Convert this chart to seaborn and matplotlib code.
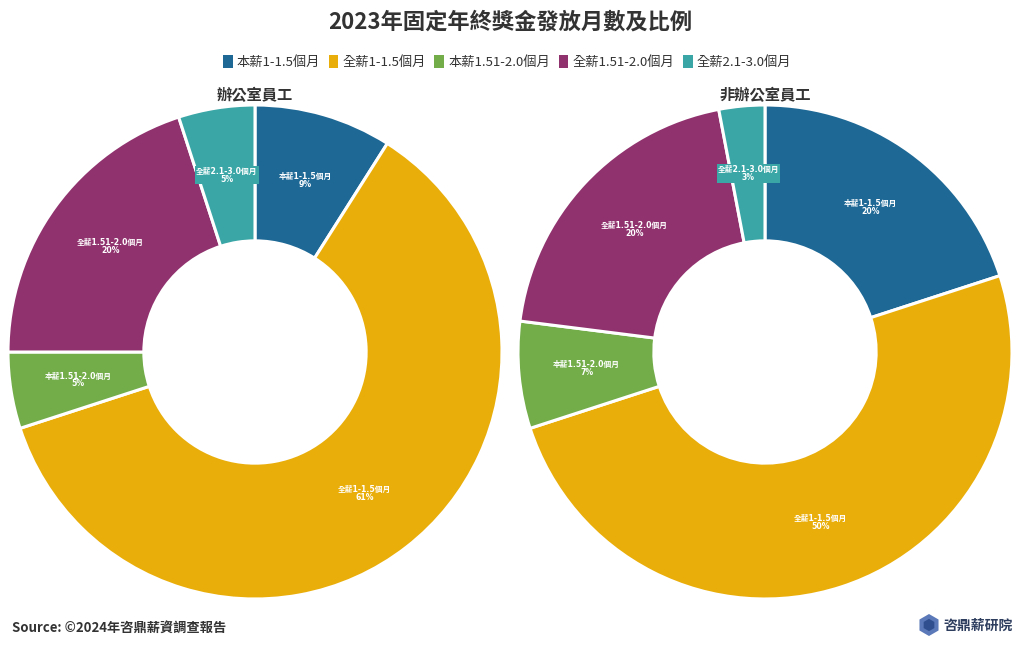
import numpy as np
import matplotlib
matplotlib.use('Agg')
import matplotlib.pyplot as plt
import seaborn as sns
from matplotlib.patches import Patch, RegularPolygon

# data
categories = ['本薪1-1.5個月', '全薪1-1.5個月', '本薪1.51-2.0個月', '全薪1.51-2.0個月', '全薪2.1-3.0個月']
office_pct = [9, 61, 5, 20, 5]
non_office_pct = [20, 50, 7, 20, 3]
groups = ['辦公室員工', '非辦公室員工']
colors = ['#1d6895', '#eaae0a', '#72ad4a', '#90326e', '#3aa6a6']

sns.set_theme(style='white')
sns.set_palette(colors)
plt.rcParams['font.family'] = ['Noto Sans CJK TC', 'DejaVu Sans']

fig = plt.figure(figsize=(10.2, 6.5), dpi=100)
fig.patch.set_facecolor('white')

title_color = '#333333'
fig.text(0.5, 0.966, '2023年固定年終獎金發放月數及比例', ha='center', va='center',
         fontsize=16, fontweight='bold', color=title_color)

# legend
handles = [Patch(facecolor=c, edgecolor='none') for c in colors]
fig.legend(handles, categories, loc='center', bbox_to_anchor=(0.497, 0.905), ncol=5,
           frameon=False, fontsize=9.5, handlelength=0.75, handleheight=1.2,
           handletextpad=0.3, columnspacing=0.65, labelcolor='#333333')

# donut axes
centers_x = [255, 765]
center_y = 352
radius_px = 247
W, H = 1020, 650

for gx, name, vals in zip(centers_x, groups, [office_pct, non_office_pct]):
    ax = fig.add_axes([(gx - radius_px) / W, (H - center_y - radius_px) / H,
                       2 * radius_px / W, 2 * radius_px / H])
    wedges, _ = ax.pie(vals, colors=colors, startangle=90, counterclock=False,
                       radius=1.0,
                       wedgeprops=dict(width=0.55, edgecolor='white', linewidth=2.2))
    ax.set_xlim(-1.0, 1.0)
    ax.set_ylim(-1.0, 1.0)
    ax.set_aspect('equal')
    ax.axis('off')
    for w, cat, v, c in zip(wedges, categories, vals, colors):
        ang = np.deg2rad((w.theta1 + w.theta2) / 2)
        r = 1.0 - 0.55 / 2
        ax.text(r * np.cos(ang), r * np.sin(ang), f'{cat}\n{v}%', ha='center', va='center',
                fontsize=5.6, fontweight='bold', color='white', linespacing=0.85,
                family=['DejaVu Sans', 'Noto Sans CJK TC'],
                bbox=dict(boxstyle='square,pad=0.1', facecolor=c, edgecolor='none'))
    fig.text(gx / W, 1 - 95 / H, name, ha='center', va='center',
             fontsize=11, fontweight='bold', color=title_color)

# footer
fig.text(12 / W, 1 - 628 / H, 'Source: ©2024年咨鼎薪資調查報告', ha='left', va='center',
         fontsize=9.5, fontweight='bold', color=title_color)

logo_ax = fig.add_axes([918 / W, 1 - 636 / H, 22 / W, 22 / H])
logo_ax.add_patch(RegularPolygon((0.5, 0.5), 6, radius=0.5, facecolor='#5b79b8', edgecolor='none'))
logo_ax.add_patch(RegularPolygon((0.5, 0.5), 6, radius=0.28, facecolor='#2f4f8f', edgecolor='none'))
logo_ax.set_xlim(0, 1)
logo_ax.set_ylim(0, 1)
logo_ax.set_aspect('equal')
logo_ax.axis('off')
fig.text(943 / W, 1 - 626 / H, '咨鼎薪研院', ha='left', va='center',
         fontsize=10, fontweight='bold', color='#2d3d5e')

fig.savefig('out.png', dpi=100, facecolor='white')
